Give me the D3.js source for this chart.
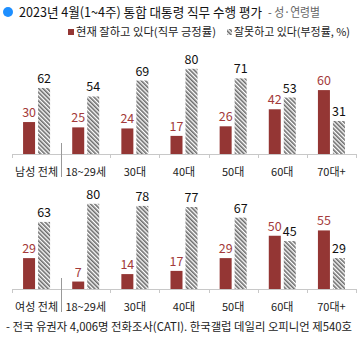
<!DOCTYPE html>
<html><head><meta charset="utf-8">
<script src="https://cdn.jsdelivr.net/npm/d3@7"></script>
<style>
html,body{margin:0;padding:0;background:#fff;}
text{font-family:"Noto Sans CJK KR","Noto Sans",sans-serif;}
</style></head>
<body><svg id="c" width="360" height="348"></svg>
<script>
const maleCats = ["남성 전체","18~29세","30대","40대","50대","60대","70대+"];
const femaleCats = ["여성 전체","18~29세","30대","40대","50대","60대","70대+"];
const malePos = [30,25,24,17,26,42,60];
const maleNeg = [62,54,69,80,71,53,31];
const femalePos = [29,7,14,17,29,50,55];
const femaleNeg = [63,80,78,77,67,45,29];
const seriesNames = ["현재 잘하고 있다(직무 긍정률)","잘못하고 있다(부정률, %)"];
const titleMain = "2023년 4월(1~4주) 통합 대통령 직무 수행 평가";
const titleSub = "- 성·연령별";
const footnote = "- 전국 유권자 4,006명 전화조사(CATI). 한국갤럽 데일리 오피니언 제540호";

const RED = "#943634", RED_TXT = "#a33a3a";
const svg = d3.select("#c");
const defs = svg.append("defs");
const pat = defs.append("pattern").attr("id","hatch").attr("patternUnits","userSpaceOnUse")
  .attr("width",3).attr("height",3).attr("patternTransform","rotate(-45)");
pat.append("rect").attr("width",3).attr("height",3).attr("fill","#fff");
pat.append("rect").attr("x",0).attr("y",0).attr("width",1.6).attr("height",3).attr("fill","#6b6b6b");

// title
svg.append("circle").attr("cx",8).attr("cy",12).attr("r",5).attr("fill","#1e8fff");
svg.append("text").attr("x",19).attr("y",17).attr("font-size",13).attr("fill","#111")
  .attr("textLength",243).attr("lengthAdjust","spacingAndGlyphs").text(titleMain);
svg.append("text").attr("x",268).attr("y",17).attr("font-size",12.5).attr("fill","#666")
  .attr("textLength",52).attr("lengthAdjust","spacingAndGlyphs").text(titleSub);

// legend
svg.append("rect").attr("x",68).attr("y",29).attr("width",6).attr("height",6).attr("fill",RED);
svg.append("text").attr("x",76).attr("y",36).attr("font-size",11).attr("fill","#222")
  .attr("textLength",140).attr("lengthAdjust","spacingAndGlyphs").text(seriesNames[0]);
svg.append("rect").attr("x",227).attr("y",29).attr("width",5).attr("height",6).attr("fill","url(#hatch)");
svg.append("text").attr("x",234).attr("y",36).attr("font-size",11).attr("fill","#222")
  .attr("textLength",116).attr("lengthAdjust","spacingAndGlyphs").text(seriesNames[1]);

function panel(cats,pos,neg,base){
  const x = d3.scaleBand().domain(cats.map((c,i)=>i)).range([12,356]).padding(0);
  const y = d3.scaleLinear().domain([0,100]).range([base, base-106.5]);
  const g = svg.append("g");
  const bw = 12, gap = 3;
  const data = cats.map((c,i)=>({i,c,p:pos[i],n:neg[i]}));
  g.selectAll(".p").data(data).join("rect")
    .attr("x",d=>x(d.i)+x.bandwidth()/2-gap/2-bw).attr("width",bw)
    .attr("y",d=>y(d.p)).attr("height",d=>base-y(d.p)).attr("fill",RED);
  g.selectAll(".n").data(data).join("rect")
    .attr("x",d=>x(d.i)+x.bandwidth()/2+gap/2).attr("width",bw)
    .attr("y",d=>y(d.n)).attr("height",d=>base-y(d.n)).attr("fill","url(#hatch)");
  g.selectAll(".pl").data(data).join("text")
    .attr("x",d=>x(d.i)+x.bandwidth()/2-gap/2-bw/2).attr("y",d=>y(d.p)-5)
    .attr("text-anchor","middle").attr("font-size",12.5).attr("fill",RED_TXT).text(d=>d.p);
  g.selectAll(".nl").data(data).join("text")
    .attr("x",d=>x(d.i)+x.bandwidth()/2+gap/2+bw/2).attr("y",d=>y(d.n)-5)
    .attr("text-anchor","middle").attr("font-size",12.5).attr("fill","#111").text(d=>d.n);
  // axis
  const ax = g.append("g").attr("transform",`translate(0,${base})`)
    .call(d3.axisBottom(x).tickSize(0).tickFormat(i=>cats[i]));
  ax.select(".domain").attr("stroke","#c8c8c8").attr("d","M12,0.5H356");
  ax.selectAll("text").attr("font-size",11).attr("fill","#222").attr("dy","0").attr("y",22)
    .style("font-family",'"Noto Sans CJK KR","Noto Sans",sans-serif');
  const bounds = d3.range(cats.length+1).map(k=> k<cats.length? x(k) : x(cats.length-1)+x.bandwidth());
  g.selectAll(".tk").data(bounds).join("line")
    .attr("x1",d=>Math.round(d)+0.5).attr("x2",d=>Math.round(d)+0.5)
    .attr("y1",base).attr("y2",base+4).attr("stroke","#c8c8c8");
  g.append("line").attr("x1",Math.round(x(1))+0.5).attr("x2",Math.round(x(1))+0.5)
    .attr("y1",base-11).attr("y2",base+23).attr("stroke","#999");
}
panel(maleCats,malePos,maleNeg,154);
panel(femaleCats,femalePos,femaleNeg,289);

svg.append("text").attr("x",6).attr("y",331).attr("font-size",11.5).attr("fill","#222")
  .attr("textLength",346).attr("lengthAdjust","spacingAndGlyphs").text(footnote);
</script></body></html>
